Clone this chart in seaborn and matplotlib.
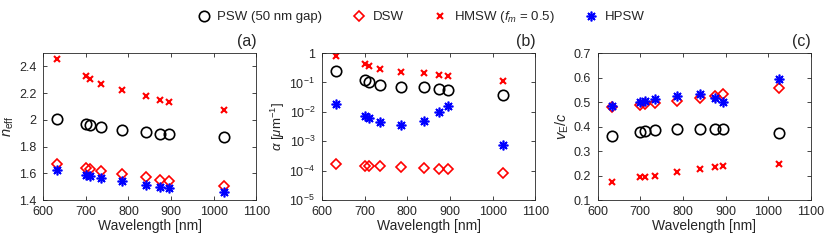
import numpy as np
import pandas as pd
import matplotlib
matplotlib.use("Agg")
import matplotlib.pyplot as plt
import matplotlib.ticker as mticker
import seaborn as sns

# wavelengths [nm]
wavelength = [633, 700, 710, 735, 785, 840, 875, 895, 1025]

# effective index
neff_psw = [2.008, 1.969, 1.961, 1.946, 1.926, 1.909, 1.896, 1.891, 1.869]
neff_dsw = [1.672, 1.640, 1.632, 1.617, 1.595, 1.570, 1.552, 1.545, 1.502]
neff_hmsw = [2.457, 2.328, 2.308, 2.268, 2.220, 2.175, 2.148, 2.136, 2.076]
neff_hpsw = [1.622, 1.585, 1.577, 1.562, 1.540, 1.515, 1.500, 1.492, 1.460]

# attenuation [1/um]
alpha_psw = [0.24, 0.124, 0.106, 0.0836, 0.0713, 0.0676, 0.0593, 0.056, 0.0379]
alpha_dsw = [1.65e-4, 1.45e-4, 1.44e-4, 1.40e-4, 1.30e-4, 1.21e-4, 1.12e-4, 1.10e-4, 8.0e-5]
alpha_hmsw = [0.80, 0.42, 0.37, 0.28, 0.234, 0.205, 0.18, 0.166, 0.112]
alpha_hpsw = [0.0186, 0.0074, 0.0063, 0.0046, 0.0037, 0.0048, 0.0101, 0.0155, 0.00075]

# energy velocity / c
ve_psw = [0.363, 0.379, 0.382, 0.384, 0.389, 0.389, 0.388, 0.388, 0.375]
ve_dsw = [0.479, 0.489, 0.490, 0.497, 0.505, 0.516, 0.524, 0.533, 0.558]
ve_hmsw = [0.174, 0.193, 0.195, 0.200, 0.213, 0.228, 0.235, 0.238, 0.249]
ve_hpsw = [0.483, 0.502, 0.505, 0.513, 0.524, 0.532, 0.516, 0.499, 0.594]

labels = ["PSW (50 nm gap)", "DSW", "HMSW ($f_m$ = 0.5)", "HPSW"]

sns.set_style("ticks")
plt.rcParams["font.family"] = ["Liberation Sans", "DejaVu Sans"]
plt.rcParams["mathtext.fontset"] = "custom"
plt.rcParams["mathtext.it"] = "Liberation Sans:italic"
plt.rcParams["mathtext.rm"] = "Liberation Sans"
plt.rcParams["xtick.direction"] = "in"
plt.rcParams["ytick.direction"] = "in"

# marker styles per series (psw, dsw, hmsw, hpsw)
styles = [
    dict(marker="o", ms=7.5, mfc="none", mec="black", mew=1.2),
    dict(marker="D", ms=5.5, mfc="none", mec="red", mew=1.2),
    dict(marker="x", ms=4.5, mfc="none", mec="red", mew=1.5),
    dict(marker=(8, 2, 0), ms=7, mfc="blue", mec="blue", mew=1.2),
]

fig = plt.figure(figsize=(8.3, 2.41), dpi=100)
lefts = [0.052, 0.388, 0.720]
axes = [fig.add_axes([l, 0.170, 0.257, 0.610]) for l in lefts]

panels = [
    [neff_psw, neff_dsw, neff_hmsw, neff_hpsw],
    [alpha_psw, alpha_dsw, alpha_hmsw, alpha_hpsw],
    [ve_psw, ve_dsw, ve_hmsw, ve_hpsw],
]

for ax, series in zip(axes, panels):
    for vals, st, lab in zip(series, styles, labels):
        sns.lineplot(x=wavelength, y=vals, ax=ax, linestyle="", label=lab,
                     estimator=None, sort=False, **st)
    ax.get_legend().remove()
    ax.set_xlim(600, 1100)
    ax.set_xticks([600, 700, 800, 900, 1000, 1100])
    ax.set_xlabel("Wavelength [nm]", fontsize=10, labelpad=1, color="#262626")
    ax.tick_params(labelsize=9, top=True, right=True, length=3, width=0.6,
                   colors="#262626")
    ax.tick_params(axis="x", pad=4)
    ax.tick_params(axis="y", pad=5)
    for sp in ax.spines.values():
        sp.set_linewidth(0.6)
        sp.set_color("#262626")

# (a)
axes[0].set_ylim(1.4, 2.5)
axes[0].set_yticks([1.4, 1.6, 1.8, 2.0, 2.2, 2.4])
axes[0].set_yticklabels(["1.4", "1.6", "1.8", "2", "2.2", "2.4"])
axes[0].set_ylabel(r"$n_{\rm eff}$", fontsize=10.5, labelpad=2, color="#262626")

# (b)
axes[1].set_yscale("log")
axes[1].set_ylim(1e-5, 1)
axes[1].set_yticks([1e-5, 1e-4, 1e-3, 1e-2, 1e-1, 1])
axes[1].yaxis.set_minor_locator(mticker.NullLocator())
axes[1].set_yticklabels([r"$10^{-5}$", r"$10^{-4}$", r"$10^{-3}$",
                         r"$10^{-2}$", r"$10^{-1}$", "1"])
axes[1].set_ylabel(r"$\alpha$ [$\mu$m$^{-1}$]", fontsize=9.5, labelpad=2,
                   color="#262626")

# (c)
axes[2].set_ylim(0.1, 0.7)
axes[2].set_yticks([0.1, 0.2, 0.3, 0.4, 0.5, 0.6, 0.7])
axes[2].set_ylabel(r"$v_{\rm E}/c$", fontsize=10.5, labelpad=2, color="#262626")

for ax, tag in zip(axes, ["(a)", "(b)", "(c)"]):
    ax.text(1.0, 1.03, tag, transform=ax.transAxes, ha="right", va="bottom",
            fontsize=11.5)

handles, labs = axes[0].get_legend_handles_labels()
fig.legend(handles, labs, loc="upper center", bbox_to_anchor=(0.505, 1.01),
           ncol=4, frameon=False, fontsize=9.5, handletextpad=0.3,
           columnspacing=2.0, handlelength=1.5)

fig.savefig("out.png", dpi=100)
